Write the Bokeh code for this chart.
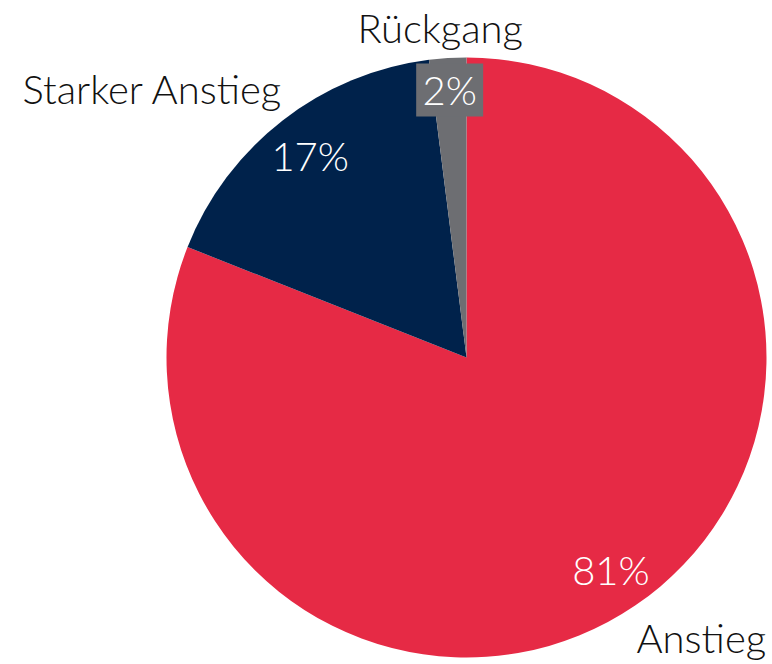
import math
from bokeh.plotting import figure
from bokeh.models import Range1d, ColumnDataSource
from bokeh.core.properties import value
from bokeh.embed import file_html
from bokeh.resources import INLINE

categories = ["Anstieg", "Starker Anstieg", "Rückgang"]
shares = [81, 17, 2]
pct_labels = ["81%", "17%", "2%"]
colors = ["#E62A45", "#00224B", "#6D6E72"]

W, H = 772, 664
FONT = value("Lato Light")

p = figure(width=W, height=H, output_backend="svg", toolbar_location=None,
           x_range=Range1d(0, W), y_range=Range1d(0, H),
           min_border=0, outline_line_color=None)
p.axis.visible = False
p.grid.visible = False
p.background_fill_color = "white"
p.border_fill_color = "white"

cx, cy, R = 466, 307, 300
total = sum(shares)
starts, ends, mids = [], [], []
cum = 0
for s in shares:
    a0 = 90 - 360 * (cum + s) / total
    a1 = 90 - 360 * cum / total
    starts.append(math.radians(a0))
    ends.append(math.radians(a1))
    mids.append(math.radians((a0 + a1) / 2))
    cum += s

src = ColumnDataSource(dict(start=starts, end=ends, color=colors,
                            x=[cx] * 3, y=[cy] * 3))
p.wedge(x="x", y="y", radius=R, start_angle="start", end_angle="end",
        fill_color="color", line_color=None, source=src)

# inner percentage labels
r_in = [257, 255, 268]
lx = [cx + r * math.cos(m) for r, m in zip(r_in, mids)]
ly = [cy + r * math.sin(m) for r, m in zip(r_in, mids)]

# grey box behind the small slice label
p.rect(x=[lx[2]], y=[ly[2]], width=67, height=53, fill_color=colors[2],
       line_color=None)

p.text(x=lx, y=ly, text=pct_labels, text_font=FONT, text_font_size="40px",
       text_color="white", text_align="center", text_baseline="middle")

# outer category labels (vertical centres)
ox = [636, 22, 357]
oy = [27, 576, 637]
p.text(x=ox, y=oy, text=categories, text_font=FONT, text_font_size="40px",
       text_color="#111111", text_align="left", text_baseline="middle")

open("out.html", "w").write(file_html(p, INLINE))
